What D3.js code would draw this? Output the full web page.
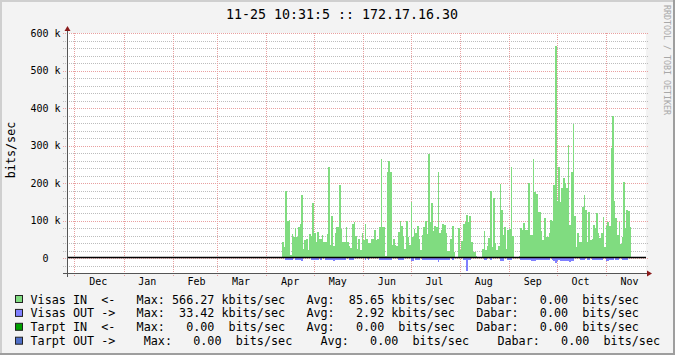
<!DOCTYPE html>
<html>
<head>
<meta charset="utf-8">
<script src="https://cdn.jsdelivr.net/npm/d3@7"></script>
<style>
  body { margin: 0; background: #f3f3f3; }
  svg { display: block; }
  text { font-family: "DejaVu Sans Mono", monospace; white-space: pre; }
</style>
</head>
<body>
<div class="rrd-graph"></div>
<script>
// rrd style yearly traffic graph

const title = "11-25 10:31:5 :: 172.17.16.30";
const yLabel = "bits/sec";
const watermark = "RRDTOOL / TOBI OETIKER";

// graph window (one year) and first day with data
const startTime = Date.UTC(2008, 10, 26, 8);
const endTime = Date.UTC(2009, 10, 26, 8);
const firstDay = Date.UTC(2009, 3, 11);

// daily averages, kbits/sec (null = unknown)
const visasIn = [
  43, 29, 180, 100, 102, 9, 65, 56, 79, 56, 83, 92, 169, 25, 49, 51, 22, 65, 58, 147,
  67, 44, 69, 52, 52, 62, 42, 42, 65, 242, 34, 113, 31, 68, 83, 83, 196, 77, 44, 44,
  84, 42, 31,
  26, 91, 97, 59, 23, 52, 21, 66, 48, 92, 50, 41, 41, 52, 50, 76, 48, 52, 82, 264,
  82, 82, 5, 230, 259, 230, 35, 50, 35, 32, 70, 100, 85, 59, 23, 100, 57, 35, 149, 57,
  78, 66, 85, 52,
  21, 61, 82, 100, 63, 277, 97, 146, 73, 86, 84, 230, 66, 76, 92, 88, 66, 19, 19, 51,
  85, 17, null, null, 79, 21, 45, 92, 96, 115, 96, 112, 44, 17, 17, 5, null, null, null, 24,
  72, 21, 32, 54,
  180, 30, 160, 41, 21, 32, 197, 128, 61, 82, 23, 76, 78, 243, 59, null, null, null, 5, 79,
  76, 94, 75, 75, 199, 61, 61, 264, 177, 170, 122, 124, 73, 48, 106, 57, 57, 68, 101, 100,
  196, 566.27, 151, 244,
  150, 188, 213, 199, 188, 301, 88, 230, 357, 112, 30, 68, 44, 44, 137, 168, 128, 44, 124, 48,
  52, 88, 81, 119, 66, 54, 66, 110, 30, 85, 97, 85, 294, 380, 153, 108, 61, 97, 37, 55,
  204, 79, 128, 126, 84
];

const visasOut = [
  1, 1, 6, 6, 6, 6, 6, 1, 6, 6, 6, 6, 7, 1, 1, 1, 1, 1, 6, 6,
  6, 6, 6, 1, 6, 1, 1, 6, 6, 6, 6, 6, 7, 6, 6, 6, 6, 6, 6, 6,
  1, 1, 6,
  6, 6, 1, 1, 1, 1, 1, 1, 1, 6, 1, 6, 1, 1, 1, 1, 1, 1, 6, 6,
  6, 6, 6, 6, 6, 6, 1, 1, 1, 1, 6, 6, 6, 6, 1, 1, 1, 1, 8, 8,
  1, 6, 6, 6,
  1, 6, 6, 6, 6, 6, 6, 6, 6, 6, 6, 10, 6, 6, 6, 6, 6, 6, 6, 1,
  6, 1, null, null, 1, 1, 1, 6, 6, 33.42, 6, 6, 1, 1, 1, 1, null, null, null, 1,
  6, 6, 1, 1,
  6, 1, 1, 1, 1, 1, 7, 7, 7, 1, 1, 6, 6, 6, 1, null, null, null, 1, 6,
  6, 6, 6, 6, 6, 6, 8, 8, 8, 6, 6, 6, 6, 6, 6, 6, 6, 6, 1, 6,
  9, 12, 9, 6,
  8, 8, 9, 9, 8, 8, 11, 9, 8, 1, 1, 1, 1, 6, 6, 6, 1, 6, 6, 1,
  6, 6, 6, 6, 6, 6, 6, 1, 1, 7, 7, 6, 6, 6, 1, 6, 6, 1, 1, 6,
  6, 6, 6, 1, 1
];

const yMajor = [0, 100, 200, 300, 400, 500, 600];
const yTickLabels = ["  0  ", "100 k", "200 k", "300 k", "400 k", "500 k", "600 k"];
const monthLabels = ["Dec", "Jan", "Feb", "Mar", "Apr", "May", "Jun", "Jul", "Aug", "Sep", "Oct", "Nov"];

// legend
const legendNames = ["Visas IN  <-", "Visas OUT ->", "Tarpt IN  <-", "Tarpt OUT ->"];
const legendColors = ["#80dc80", "#8080ff", "#00a000", "#5070c8"];
const legendMax = ["566.27", "33.42", "0.00", "0.00"];
const legendMaxUnit = ["kbits/sec", "kbits/sec", " bits/sec", " bits/sec"];
const legendAvg = ["85.65", "2.92", "0.00", "0.00"];
const legendAvgUnit = ["kbits/sec", "kbits/sec", " bits/sec", " bits/sec"];
const legendNow = ["0.00", "0.00", "0.00", "0.00"];
const legendNowUnit = [" bits/sec", " bits/sec", " bits/sec", " bits/sec"];
const legendGap = [3, 3, 3, 4];

const width = 675, height = 355;
const x0 = 67, x1 = 646, yTop = 33, yBottom = 273;

const svg = d3.select(".rrd-graph").append("svg")
  .attr("width", width)
  .attr("height", height)
  .attr("viewBox", [0, 0, width, height]);

// background + 3d frame
svg.append("rect").attr("width", width).attr("height", height).attr("fill", "#f3f3f3");
svg.append("path").attr("d", `M0,1H${width}M1,0V${height}`).attr("stroke", "#cfcfcf").attr("stroke-width", 2);
svg.append("path").attr("d", `M0,${height - 1}H${width}M${width - 1},0V${height}`).attr("stroke", "#9e9e9e").attr("stroke-width", 2);

const x = d3.scaleUtc().domain([startTime, endTime]).range([x0, x1]);
const y = d3.scaleLinear().domain([-40, 600]).range([yBottom, yTop]);

// canvas
svg.append("rect")
  .attr("x", x0).attr("y", yTop)
  .attr("width", x1 - x0).attr("height", yBottom - yTop)
  .attr("fill", "#fff");

// minor horizontal grid
const minor = d3.range(-20, 600, 20).filter(v => v % 100 !== 0);
svg.append("g").selectAll("line")
  .data(minor)
  .join("line")
  .attr("x1", x0 - 4).attr("x2", x1 + 2)
  .attr("y1", d => Math.round(y(d)) + 0.5).attr("y2", d => Math.round(y(d)) + 0.5)
  .attr("stroke", "#bdbdbd")
  .attr("stroke-dasharray", "1,1");

// major horizontal grid
svg.append("g").selectAll("line")
  .data(yMajor)
  .join("line")
  .attr("x1", x0 - 4).attr("x2", x1 + 2)
  .attr("y1", d => Math.round(y(d)) + 0.5).attr("y2", d => Math.round(y(d)) + 0.5)
  .attr("stroke", "#e8a0a0")
  .attr("stroke-dasharray", "1,1");

// month grid
const monthStarts = d3.utcMonth.range(new Date(startTime), new Date(endTime));
svg.append("g").selectAll("line")
  .data(monthStarts)
  .join("line")
  .attr("x1", d => Math.round(x(d)) + 0.5).attr("x2", d => Math.round(x(d)) + 0.5)
  .attr("y1", yTop).attr("y2", yBottom + 4)
  .attr("stroke", "#e8a0a0")
  .attr("stroke-dasharray", "1,1");

// daily bars
const days = visasIn.map((v, i) => {
  const t = d3.utcDay.offset(new Date(firstDay), i);
  return { t0: t, t1: d3.utcDay.offset(t, 1), inV: v, outV: visasOut[i] ?? null };
});

svg.append("g").attr("shape-rendering", "crispEdges")
  .selectAll("rect")
  .data(days.filter(d => d.inV != null))
  .join("rect")
  .attr("x", d => Math.round(x(d.t0)))
  .attr("width", d => Math.round(x(d.t1)) - Math.round(x(d.t0)))
  .attr("y", d => y(d.inV))
  .attr("height", d => y(0) - y(d.inV))
  .attr("fill", legendColors[0]);

svg.append("g").attr("shape-rendering", "crispEdges")
  .selectAll("rect")
  .data(days.filter(d => d.outV != null))
  .join("rect")
  .attr("x", d => Math.round(x(d.t0)))
  .attr("width", d => Math.round(x(d.t1)) - Math.round(x(d.t0)))
  .attr("y", y(0))
  .attr("height", d => y(-d.outV) - y(0))
  .attr("fill", legendColors[1]);

// zero line
svg.append("line")
  .attr("x1", x0).attr("x2", x1)
  .attr("y1", y(0) - 0.5).attr("y2", y(0) - 0.5)
  .attr("stroke", "#000").attr("stroke-width", 1.4);

// axes
svg.append("line")
  .attr("x1", x0 + 0.5).attr("x2", x0 + 0.5)
  .attr("y1", yBottom + 4).attr("y2", yTop - 4)
  .attr("stroke", "#555");
svg.append("line")
  .attr("x1", x0 - 4).attr("x2", x1 + 4)
  .attr("y1", yBottom + 0.5).attr("y2", yBottom + 0.5)
  .attr("stroke", "#555");
svg.append("path")
  .attr("d", `M${x0 + 0.5},${yTop - 7}L${x0 - 2.5},${yTop - 2}L${x0 + 3.5},${yTop - 2}Z`)
  .attr("fill", "#8a1a1a");
svg.append("path")
  .attr("d", `M${x1 + 6},${yBottom + 0.5}L${x1 + 1},${yBottom - 2.5}L${x1 + 1},${yBottom + 3.5}Z`)
  .attr("fill", "#8a1a1a");

// y tick labels
svg.append("g").selectAll("text")
  .data(yMajor)
  .join("text")
  .attr("x", 30.5)
  .attr("y", d => y(d) + 3.7)
  .attr("font-size", "10px")
  .attr("fill", "#000")
  .text((d, i) => yTickLabels[i]);

// month labels (mid month)
svg.append("g").selectAll("text")
  .data(monthStarts)
  .join("text")
  .attr("x", d => x(d3.utcDay.offset(d, 15)))
  .attr("y", 285)
  .attr("text-anchor", "middle")
  .attr("font-size", "10px")
  .attr("fill", "#000")
  .text((d, i) => monthLabels[i]);

// title, y label, watermark
svg.append("text")
  .attr("x", 342).attr("y", 18.5)
  .attr("text-anchor", "middle")
  .attr("font-size", "13.3px")
  .text(title);

svg.append("text")
  .attr("transform", "translate(14.5,150) rotate(-90)")
  .attr("text-anchor", "middle")
  .attr("font-size", "11.76px")
  .text(yLabel);

svg.append("text")
  .attr("transform", "translate(664,5) rotate(90)")
  .attr("font-size", "8.3px")
  .attr("fill", "#a8a8a8")
  .text(watermark);

// legend
const legend = svg.append("g");
legendNames.forEach((name, i) => {
  const base = 303.5 + i * 13.9;
  const gap = " ".repeat(legendGap[i]);
  const line = name.padEnd(12) + gap +
    "Max: " + legendMax[i].padStart(6) + " " + legendMaxUnit[i] + gap +
    "Avg: " + legendAvg[i].padStart(6) + " " + legendAvgUnit[i] + gap +
    "Dabar: " + legendNow[i].padStart(6) + " " + legendNowUnit[i];
  legend.append("rect")
    .attr("x", 15.5).attr("y", base - 8)
    .attr("width", 7).attr("height", 7)
    .attr("fill", legendColors[i])
    .attr("stroke", "#222");
  legend.append("text")
    .attr("x", 30.5).attr("y", base)
    .attr("font-size", "11.76px")
    .text(line);
});
</script>
</body>
</html>
